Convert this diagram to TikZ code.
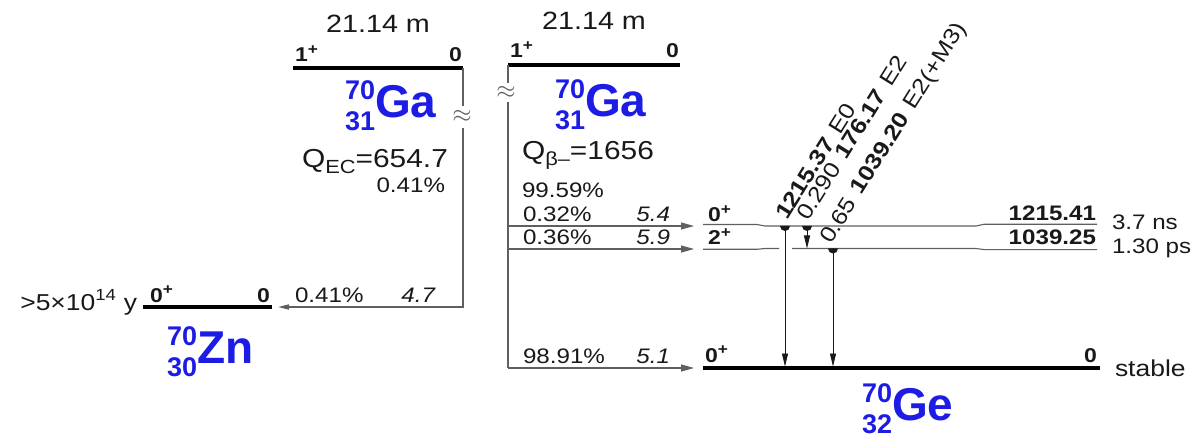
\documentclass[tikz,border=0pt]{standalone}
\usepackage{fontspec}
\setmainfont{Liberation Sans}[FakeStretch=1.15]
\newfontfamily\nucfont{Liberation Sans}
\usetikzlibrary{arrows.meta,calc}
\definecolor{nucblue}{RGB}{28,28,228}
\definecolor{ink}{RGB}{25,25,25}
\definecolor{linegray}{RGB}{95,95,95}
\newcommand{\fs}[1]{\fontsize{#1}{#1}\selectfont}
\newcommand{\nuclide}[3]{{\nucfont\bfseries\color{nucblue}{\fs{27}\makebox[0pt][l]{\raisebox{18pt}{#1}}\raisebox{-13pt}{#2}}{\fs{46}#3}}}
\newcommand{\spin}[1]{#1\textsuperscript{\fs{15}+}}
\begin{document}
\begin{tikzpicture}[x=1pt,y=-1pt,
  txt/.style={inner sep=0pt,outer sep=0pt,text=ink},
  lvl/.style={line width=3.2pt,black},
  sublvl/.style={line width=1.1pt,linegray},
  vline/.style={line width=1.3pt,linegray},
  feed/.style={line width=1.1pt,linegray,-{Triangle[length=13pt,width=7pt]}},
  gam/.style={line width=0.9pt,ink,-{Triangle[length=13pt,width=6pt]}},
  mk/.style={fill=ink},
  brk/.style={txt,text=linegray,font=\fs{28}},
  glab/.style={txt,anchor=base west,rotate=58,font=\fs{22}}]
\useasboundingbox (0,0) rectangle (1201,446);

% ---------- 70Zn ----------
\coordinate (znl) at (143,307);
\coordinate (znr) at (272,307);
\draw[lvl] (znl) -- (znr);
\node[txt,anchor=base east] (znhl) at (137,310) {\fs{23}>5×10\textsuperscript{14} y};
\node[txt,anchor=base west] (znj) at (150,302) {\fs{20}\bfseries\spin{0}};
\node[txt,anchor=base east] (zne) at (270,302) {\fs{20}\bfseries 0};
\node[txt,anchor=base west] (znn) at (167,363) {\nuclide{70}{30}{Zn}};

% ---------- left 70Ga (EC) ----------
\coordinate (gaLl) at (293,68);
\coordinate (gaLr) at (463,68);
\draw[lvl] (gaLl) -- (gaLr);
\node[txt,anchor=base] (gaLhl) at (378,33) {\fs{25}21.14 m};
\node[txt,anchor=base west] (gaLj) at (295,62) {\fs{20}\bfseries\spin{1}};
\node[txt,anchor=base east] (gaLe) at (462,62) {\fs{20}\bfseries 0};
\node[txt,anchor=base west] (gaLn) at (345,118) {\nuclide{70}{31}{Ga}};
\node[txt,anchor=base west] (qec) at (302,168) {\fs{26}Q\raisebox{-6pt}{\fs{19}EC}=654.7};
\node[txt,anchor=base east] (pec) at (445,193) {\fs{21}0.41\%};

\coordinate (vLa) at (463,106);
\coordinate (vLb) at (463,128);
\coordinate (vLc) at (463,307);
\coordinate (znTip) at ($(znr)+(6,0)$);
\node[brk] (apL) at (462,116) {$\approx$};
\draw[vline] (gaLr) -- (vLa);
\draw[vline,-{Triangle[length=11pt,width=5pt]}] (vLb) -- (vLc) -- (znTip);
\node[txt,anchor=base west] (znp) at (295,302) {\fs{21}0.41\%};
\node[txt,anchor=base east] (znf) at (435,302) {\fs{21}\itshape 4.7};

% ---------- right 70Ga (beta-) ----------
\coordinate (gaRl) at (508,65);
\coordinate (gaRr) at (680,65);
\draw[lvl] (gaRl) -- (gaRr);
\node[txt,anchor=base] (gaRhl) at (594,30) {\fs{25}21.14 m};
\node[txt,anchor=base west] (gaRj) at (510,58) {\fs{20}\bfseries\spin{1}};
\node[txt,anchor=base east] (gaRe) at (679,58) {\fs{20}\bfseries 0};
\node[txt,anchor=base west] (gaRn) at (555,117) {\nuclide{70}{31}{Ga}};
\node[txt,anchor=base west] (qbm) at (522,160) {\fs{26}Q\raisebox{-6pt}{\fs{19}β–}=1656};
\node[txt,anchor=base west] (pbm) at (522,198) {\fs{21}99.59\%};

\coordinate (vRa) at (508,83);
\coordinate (vRb) at (508,102);
\coordinate (vR1) at (508,226);
\coordinate (vR2) at (508,249);
\coordinate (vR0) at (508,368);
\coordinate (t1) at (694,226);
\coordinate (t2) at (694,249);
\coordinate (t0) at (694,368);
\node[brk] (apR) at (506,92) {$\approx$};
\draw[vline] (gaRl) -- (vRa);
\draw[vline] (vRb) -- (vR0);
\draw[feed] (vR1) -- (t1);
\draw[feed] (vR2) -- (t2);
\draw[feed] (vR0) -- (t0);
\node[txt,anchor=base west] (p1) at (523,222) {\fs{21}0.32\%};
\node[txt,anchor=base east] (f1) at (670,222) {\fs{21}\itshape 5.4};
\node[txt,anchor=base west] (p2) at (523,245) {\fs{21}0.36\%};
\node[txt,anchor=base east] (f2) at (670,245) {\fs{21}\itshape 5.9};
\node[txt,anchor=base west] (p0) at (523,363) {\fs{21}98.91\%};
\node[txt,anchor=base east] (f0) at (670,363) {\fs{21}\itshape 5.1};

% ---------- 70Ge levels ----------
\draw[sublvl] (703,224.5) -- (757,224.5) -- (765,226) -- (976,226) -- (984,224.3) -- (1097,224.3);
\draw[sublvl] (703,249.3) -- (757,249.3) -- (765,248.5) -- (779,248.5);
\draw[sublvl] (792,248.5) -- (976,248.5) -- (984,249.6) -- (1097,249.6);
\coordinate (gel) at (703,368);
\coordinate (ger) at (1100,368);
\draw[lvl] (gel) -- (ger);
\draw[line width=4.4pt,black] (838,368) -- (979,368);

\node[txt,anchor=base west] (j1) at (708,222) {\fs{20}\bfseries\spin{0}};
\node[txt,anchor=base west] (j2) at (708,245) {\fs{20}\bfseries\spin{2}};
\node[txt,anchor=base west] (j0) at (705,362) {\fs{20}\bfseries\spin{0}};
\node[txt,anchor=base east] (e0) at (1097,362) {\fs{20}\bfseries 0};
\node[txt,anchor=base east] (e1) at (1096,221) {\fs{21}\bfseries 1215.41};
\node[txt,anchor=base east] (e2) at (1096,245) {\fs{21}\bfseries 1039.25};
\node[txt,anchor=base west] (h1) at (1112,230) {\fs{21}3.7 ns};
\node[txt,anchor=base west] (h2) at (1112,254) {\fs{21}1.30 ps};
\node[txt,anchor=base west] (h0) at (1115,376) {\fs{23}stable};
\node[txt,anchor=base west] (gen) at (862,420) {\nuclide{70}{32}{Ge}};

% ---------- gamma transitions ----------
\coordinate (g1t) at (785,226);
\coordinate (g1b) at (785,366.5);
\coordinate (g2t) at (807,226);
\coordinate (g2b) at (807,248.5);
\coordinate (g3t) at (833,248.5);
\coordinate (g3b) at (833,366.5);
\draw[gam] (g1t) -- (g1b);
\draw[gam] (g2t) -- (g2b);
\draw[gam] (g3t) -- (g3b);
\fill[mk] ($(g1t)+(-5,0)$) arc[start angle=180,end angle=360,radius=5pt] -- cycle;
\fill[mk] ($(g2t)+(-5,0)$) arc[start angle=180,end angle=360,radius=5pt] -- cycle;
\fill[mk] ($(g3t)+(-5,0)$) arc[start angle=180,end angle=360,radius=5pt] -- cycle;
\node[glab] (l1) at (787,221) {\textbf{1215.37}\hspace{0.4em}E0};
\node[glab] (l2) at (808,222) {0.290\hspace{0.4em}\textbf{176.17}\hspace{0.4em}E2};
\node[glab] (l3) at (831,245) {0.65\hspace{0.4em}\textbf{1039.20}\hspace{0.4em}E2(+M3)};
\end{tikzpicture}
\end{document}
